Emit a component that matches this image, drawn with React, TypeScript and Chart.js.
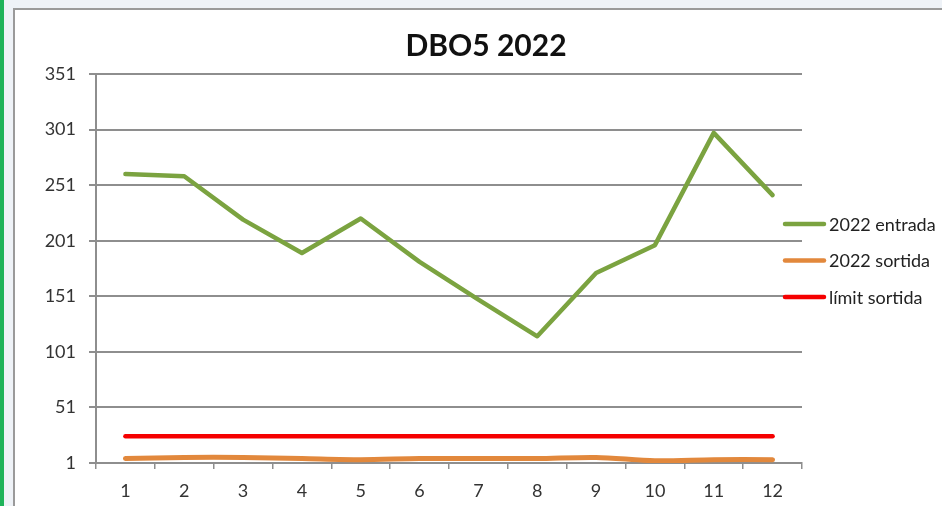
import React, { useEffect, useRef } from "react";
import { Chart, registerables } from "chart.js";

Chart.register(...registerables);

const TITLE = "DBO5 2022";
const MONTHS = ["1", "2", "3", "4", "5", "6", "7", "8", "9", "10", "11", "12"];
const ENTRADA = [261, 259, 220, 190, 221, 182, 148, 115, 172, 197, 298, 242];
const SORTIDA = [5, 6, 6, 5, 4, 5, 5, 5, 6, 3, 4, 4];
const LIMIT = [25, 25, 25, 25, 25, 25, 25, 25, 25, 25, 25, 25];
const Y_TICKS = [1, 51, 101, 151, 201, 251, 301, 351];

const FONT = "Lato, 'Open Sans', sans-serif";

const overlayPlugin = {
  id: "overlay",
  afterDraw(chart: any) {
    const ctx = chart.ctx;
    const area = chart.chartArea;
    ctx.save();
    // title
    ctx.font = `bold 30px ${FONT}`;
    ctx.fillStyle = "#111";
    ctx.textAlign = "center";
    ctx.textBaseline = "middle";
    ctx.fillText(TITLE, 486, 46);
    // legend
    ctx.font = `18px ${FONT}`;
    ctx.textAlign = "left";
    const x0 = area.right - 17;
    chart.data.datasets.forEach((ds: any, i: number) => {
      const y = 224 + i * 36.5;
      ctx.strokeStyle = ds.borderColor;
      ctx.lineWidth = 4.5;
      ctx.lineCap = "round";
      ctx.beginPath();
      ctx.moveTo(x0, y);
      ctx.lineTo(x0 + 39, y);
      ctx.stroke();
      ctx.fillStyle = "#222";
      ctx.fillText(ds.label, x0 + 44, y + 1);
    });
    ctx.restore();
  },
};

export default function App() {
  const ref = useRef<HTMLCanvasElement>(null);
  useEffect(() => {
    if (!ref.current) return;
    const chart = new Chart(ref.current, {
      type: "line",
      data: {
        labels: MONTHS,
        datasets: [
          {
            label: "2022 entrada",
            data: ENTRADA,
            borderColor: "#7ba340",
            backgroundColor: "#7ba340",
            borderWidth: 4.5,
            pointRadius: 0,
            borderCapStyle: "round",
            borderJoinStyle: "round",
            tension: 0,
          },
          {
            label: "2022 sortida",
            data: SORTIDA,
            borderColor: "#e2883c",
            backgroundColor: "#e2883c",
            borderWidth: 5,
            pointRadius: 0,
            borderCapStyle: "round",
            borderJoinStyle: "round",
            tension: 0.3,
          },
          {
            label: "límit sortida",
            data: LIMIT,
            borderColor: "#f50000",
            backgroundColor: "#f50000",
            borderWidth: 4.5,
            pointRadius: 0,
            borderCapStyle: "round",
            borderJoinStyle: "round",
            tension: 0,
          },
        ],
      },
      options: {
        responsive: false,
        animation: false,
        devicePixelRatio: 1,
        layout: { padding: { top: 74, right: 140, bottom: 0, left: 0 } },
        plugins: {
          legend: { display: false },
          title: { display: false },
          tooltip: { enabled: false },
        },
        scales: {
          x: {
            type: "category",
            offset: true,
            grid: {
              offset: true,
              drawOnChartArea: false,
              drawTicks: true,
              tickLength: 6,
              color: "#8e8e8e",
              lineWidth: 1.5,
            },
            border: { color: "#8e8e8e", width: 2 },
            ticks: {
              color: "#333",
              font: { family: FONT, size: 18 },
              padding: 11,
              maxRotation: 0,
            },
            afterFit(scale: any) {
              scale.height = 43;
            },
          },
          y: {
            type: "linear",
            min: 1,
            max: 351,
            afterBuildTicks(scale: any) {
              scale.ticks = Y_TICKS.map((v) => ({ value: v }));
            },
            grid: {
              color: "#8e8e8e",
              lineWidth: 2,
              tickLength: 7,
            },
            border: { color: "#8e8e8e", width: 2 },
            ticks: {
              color: "#333",
              font: { family: FONT, size: 18 },
              padding: 13,
            },
            afterFit(scale: any) {
              scale.width = 96;
            },
          },
        },
      },
      plugins: [overlayPlugin],
    } as any);
    return () => chart.destroy();
  }, []);

  return (
    <div
      style={{
        position: "fixed",
        left: 0,
        top: 0,
        width: 942,
        height: 506,
        overflow: "hidden",
        background: "#eef2f7",
      }}
    >
      <div
        style={{
          position: "absolute",
          left: 0,
          top: 0,
          width: 4,
          height: 506,
          background: "#1fb35a",
        }}
      />
      <div
        style={{
          position: "absolute",
          left: 13,
          top: 8,
          width: 960,
          height: 520,
          background: "#ffffff",
          borderLeft: "2px solid #9a9a9a",
          borderTop: "2px solid #9a9a9a",
        }}
      />
      <canvas
        ref={ref}
        width={942}
        height={506}
        style={{ position: "absolute", left: 0, top: 0, width: 942, height: 506 }}
      />
    </div>
  );
}
